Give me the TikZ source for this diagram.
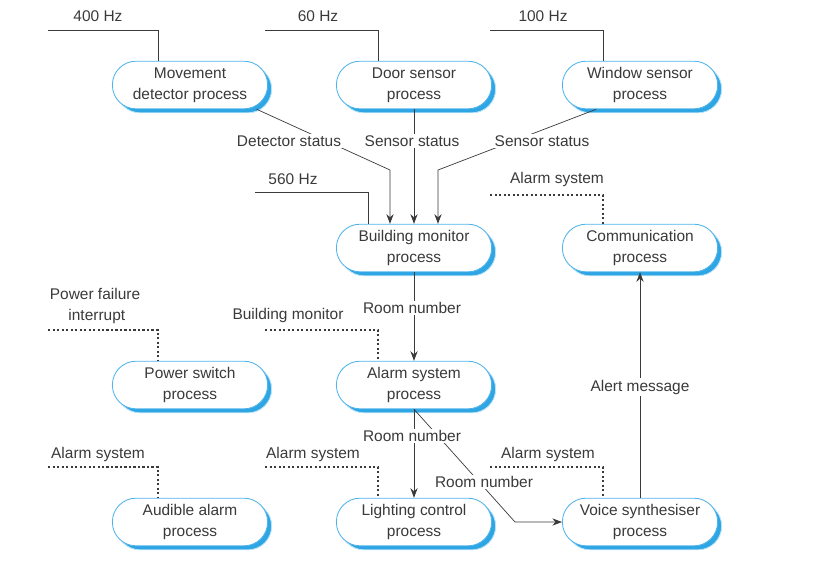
\documentclass[tikz,border=0pt]{standalone}
\usepackage{fontspec}
\setmainfont{Liberation Sans}
\usetikzlibrary{arrows.meta,shadows}
\definecolor{procblue}{HTML}{4FB4EC}
\definecolor{shadeblue}{HTML}{2FA6E4}
\definecolor{inkgray}{HTML}{3A3A3A}
\tikzset{
    proc/.style={draw=procblue, fill=white, rounded corners=0.59cm, minimum width=3.88cm, minimum height=1.19cm,
        align=center, text=inkgray, line width=0.6pt,
        drop shadow={shadow xshift=0.1cm, shadow yshift=-0.1cm, fill=shadeblue, draw=procblue!40, opacity=1}}, % process box
    lbl/.style={text=inkgray, inner sep=1pt}, % label text
    flow/.style={draw=inkgray, line width=0.5pt}, % data connector
    sig/.style={draw=inkgray, dash pattern=on 1.6pt off 1.6pt, line width=0.9pt} % signal connector
}
\begin{document}
\begin{tikzpicture}[x=0.025cm, y=-0.025cm, font=\fontsize{11}{15}\selectfont, >={Stealth[length=2.4mm, width=1.8mm]}]
    \useasboundingbox (0,0) rectangle (826,581);

    % processes
    \node[proc] (mvdet) at (190,85) {Movement\\detector process};
    \node[proc] (doorsen) at (414,85) {Door sensor\\process};
    \node[proc] (winsen) at (640,85) {Window sensor\\process};
    \node[proc] (bldmon) at (414,248) {Building monitor\\process};
    \node[proc] (comms) at (640,248) {Communication\\process};
    \node[proc] (pwrsw) at (190,385) {Power switch\\process};
    \node[proc] (alarmsys) at (414,385) {Alarm system\\process};
    \node[proc] (audalarm) at (190,522) {Audible alarm\\process};
    \node[proc] (lightctl) at (414,522) {Lighting control\\process};
    \node[proc] (voicesyn) at (640,522) {Voice synthesiser\\process};

    % periodic inputs
    \coordinate (hz400) at (48,30);
    \coordinate (hz60) at (265,30);
    \coordinate (hz100) at (490,30);
    \coordinate (hz560) at (255,192);
    \draw[flow] (hz400) -- (158,30) -- (158,30 |- mvdet.north);
    \draw[flow] (hz60) -- (378,30) -- (378,30 |- doorsen.north);
    \draw[flow] (hz100) -- (603,30) -- (603,30 |- winsen.north);
    \draw[flow] (hz560) -- (368,192) -- (368,192 |- bldmon.north);
    \node[lbl] (lhz400) at (98,16) {400 Hz};
    \node[lbl] (lhz60) at (318,16) {60 Hz};
    \node[lbl] (lhz100) at (543,16) {100 Hz};
    \node[lbl] (lhz560) at (293,179) {560 Hz};

    % status flows
    \coordinate (detbend) at (390,170);
    \coordinate (winbend) at (438,170);
    \draw[flow,->] (mvdet.-20) -- (detbend) -- (detbend |- bldmon.north);
    \draw[flow,->] (doorsen) -- (bldmon);
    \draw[flow,->] (winsen.-151) -- (winbend) -- (winbend |- bldmon.north);
    \node[lbl, fill=white] (ldet) at (289,141) {Detector status};
    \node[lbl, fill=white] (ldoor) at (412,141) {Sensor status};
    \node[lbl, fill=white] (lwin) at (542,141) {Sensor status};

    % signal inputs
    \coordinate (sigcomm) at (490,195);
    \coordinate (sigbld) at (265,330);
    \coordinate (sigpwr) at (48,330);
    \coordinate (sigaud) at (48,467);
    \coordinate (siglight) at (265,467);
    \coordinate (sigvoice) at (490,467);
    \draw[sig] (sigcomm) -- (603,195) -- (603,195 |- comms.north);
    \draw[sig] (sigbld) -- (378,330) -- (378,330 |- alarmsys.north);
    \draw[sig] (sigpwr) -- (158,330) -- (158,330 |- pwrsw.north);
    \draw[sig] (sigaud) -- (158,467) -- (158,467 |- audalarm.north);
    \draw[sig] (siglight) -- (378,467) -- (378,467 |- lightctl.north);
    \draw[sig] (sigvoice) -- (603,467) -- (603,467 |- voicesyn.north);
    \node[lbl] (lcomm) at (557,179) {Alarm system};
    \node[lbl] (lbld) at (288,315) {Building monitor};
    \node[lbl, align=left] (lpwr) at (95,306) {Power failure\\\hspace*{1.2em}interrupt};
    \node[lbl] (laud) at (98,454) {Alarm system};
    \node[lbl] (llight) at (313,454) {Alarm system};
    \node[lbl] (lvoice) at (548,454) {Alarm system};

    % room number and alert flows
    \coordinate (voicebend) at (515,522);
    \draw[flow,->] (bldmon) -- (alarmsys);
    \draw[flow,->] (alarmsys) -- (lightctl);
    \draw[flow,->] (alarmsys.south) -- (voicebend) -- (voicesyn.west);
    \draw[flow,->] (voicesyn) -- (comms);
    \node[lbl, fill=white] (lroom1) at (412,308) {Room number};
    \node[lbl, fill=white] (lroom2) at (412,436) {Room number};
    \node[lbl, fill=white] (lroom3) at (484,482) {Room number};
    \node[lbl, fill=white] (lalert) at (640,387) {Alert message};
\end{tikzpicture}
\end{document}
